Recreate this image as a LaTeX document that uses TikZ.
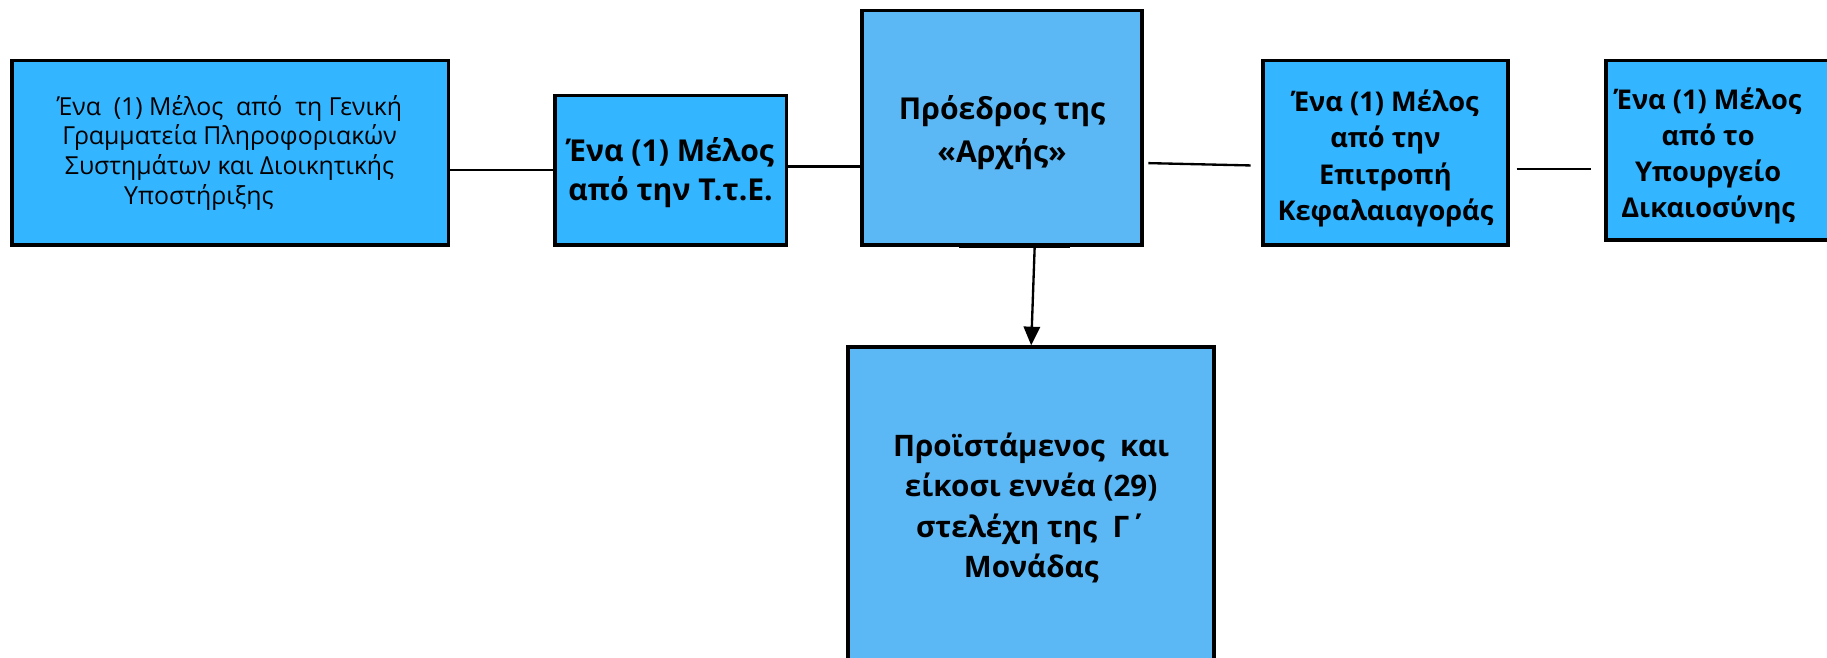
\documentclass[tikz,border=0pt]{standalone}
\usepackage{fontspec}
\setmainfont{Open Sans}
\usetikzlibrary{fit,calc,arrows.meta}
\definecolor{boxA}{RGB}{51,181,255}
\definecolor{boxB}{RGB}{92,184,245}
\begin{document}
\begin{tikzpicture}[x=0.87388pt,y=-0.87388pt,
  box/.style={draw=black,line width=2.8pt,inner sep=0pt,fill=boxA},
  boxlight/.style={box,fill=boxB},
  link/.style={draw=black,line width=1.75pt},
  lbl/.style={align=center,inner sep=0pt},
  txtA/.style={lbl,font=\fontsize{18.6}{22.2}\selectfont},
  txtB/.style={lbl,font=\fontsize{22.6}{28.8}\selectfont\bfseries},
  txtC/.style={lbl,font=\fontsize{22.6}{32.3}\selectfont\bfseries},
  txtD/.style={lbl,font=\fontsize{20.4}{27.1}\selectfont\bfseries},
  txtE/.style={lbl,font=\fontsize{22.2}{30.3}\selectfont\bfseries}]
\useasboundingbox (0,0) rectangle (1568,563.9);
\clip (0,0) rectangle (1568,563.9);
% boxes
\node[box,fit={(10,52)(385,210)}] (g) {};
\node[box,fit={(476,82)(675,210)}] (t) {};
\node[boxlight,fit={(740,9)(980,210)}] (p) {};
\node[box,fit={(1084,52)(1294,210)}] (k) {};
\node[box,fit={(1378,52)(1900,206)}] (u) {};
\node[boxlight,fit={(728,298)(1042,720)}] (m) {};
% texts
\node[txtA] (gt) at (197,131) {Ένα\ \ (1) Μέλος\ \ από\ \ τη Γενική\\ Γραμματεία Πληροφοριακών\\ Συστημάτων και Διοικητικής\\ Υποστήριξης\hspace*{46pt}\mbox{}};
\node[txtB] (tt) at (575.5,148) {Ένα (1) Μέλος\\ από την Τ.τ.Ε.};
\node[txtC] (pt) at (860,114) {Πρόεδρος της\\ «Αρχής»};
\node[txtD] (kt) at (1189,136) {Ένα (1) Μέλος\\ από την\\ Επιτροπή\\ Κεφαλαιαγοράς};
\node[txtD] (ut) at (1466,134) {Ένα (1) Μέλος\\ από το\\ Υπουργείο\\ Δικαιοσύνης};
\node[txtE] (mt) at (885,436) {Προϊστάμενος\ \ και\\ είκοσι εννέα (29)\\ στελέχη της\ \ Γ΄\\ Μονάδας};
% connectors
\draw[link] (g.east |- t.west) -- (t.west);
\draw[link] ([yshift=2.6pt]t.east) -- ([yshift=2.6pt]t.east -| p.west);
\coordinate (c1) at ($(k.west)+(-9,11)$);
\draw[link] ($(p.east)+(4,30.5)$) -- (c1);
\coordinate (c2) at ($(k.east)+(6,14)$);
\coordinate (c3) at ($(u.west)+(-11,16)$);
\draw[link] (c2) -- (c3);
\draw[draw=black,line width=3.5pt] ($(p.south)+(-37,-1)$) -- ($(p.south)+(58,-1)$);
\draw[link,-{Triangle[length=14pt,width=12.2pt]}] ($(p.south)+(28,0)$) -- (m.north);
\end{tikzpicture}
\end{document}
